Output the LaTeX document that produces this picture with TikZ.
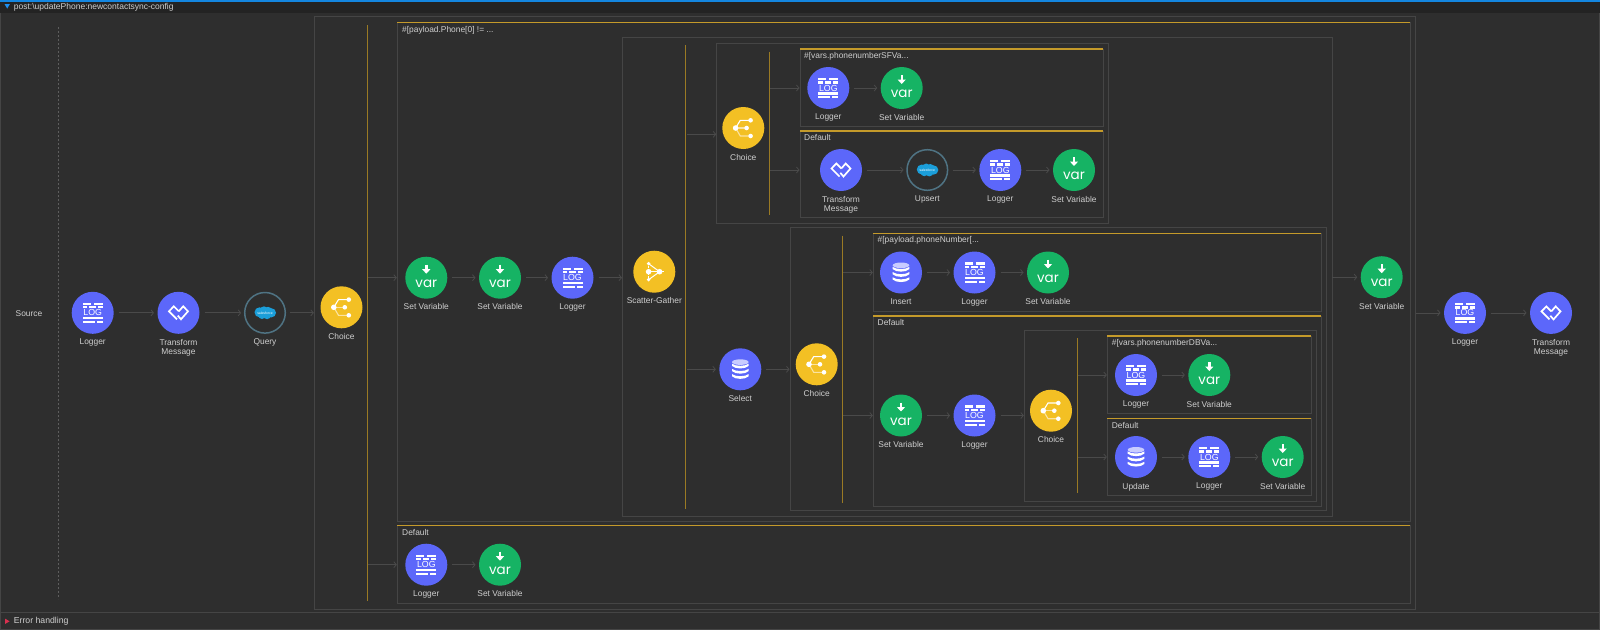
\documentclass[tikz,border=0pt]{standalone}
\usepackage{fontspec}
\setmainfont{Liberation Sans}
\newfontfamily\varfont{Poppins}
\usetikzlibrary{arrows.meta}
\definecolor{bgc}{HTML}{2E2E2E}
\definecolor{bandc}{HTML}{232323}
\definecolor{framec}{HTML}{454545}
\definecolor{flowc}{HTML}{4A4A4A}
\definecolor{dotc}{HTML}{5E5E5E}
\definecolor{goldb}{HTML}{C49A2A}
\definecolor{goldv}{HTML}{9A7A24}
\definecolor{txtc}{HTML}{CFCFCF}
\definecolor{blu}{HTML}{5C67FA}
\definecolor{grn}{HTML}{16B364}
\definecolor{yel}{HTML}{F3C024}
\definecolor{ringc}{HTML}{4F7383}
\definecolor{sfc}{HTML}{1B9ED9}
\definecolor{lav}{HTML}{C9CCFF}
\definecolor{dimy}{HTML}{FBE3A0}
\definecolor{topblue}{HTML}{1486E0}
\definecolor{triblue}{HTML}{1E90F0}
\definecolor{trired}{HTML}{D9304F}
\tikzset{
  x=1pt,y=-1pt,
  bubble/.style={circle,minimum size=42pt,inner sep=0pt,outer sep=0pt},
  bub/.style={bubble,fill=blu},
  bug/.style={bubble,fill=grn},
  buy/.style={bubble,fill=yel},
  bus/.style={bubble,minimum size=40.6pt,draw=ringc,line width=1.5pt,fill=bgc},
  caption/.style={anchor=north,inner sep=0pt,align=center,text=txtc,font=\fontsize{8.4}{9.4}\selectfont},
  frame/.style={draw=framec,line width=.8pt,anchor=north west,inner sep=0pt,outer sep=0pt},
  frametitle/.style={anchor=west,inner sep=0pt,text=txtc,font=\fontsize{8.4}{9.4}\selectfont},
  goldbar/.style={draw=goldb,line width=1.4pt},
  goldline/.style={draw=goldv,line width=1pt},
  flow/.style={draw=flowc,line width=.8pt,-{Straight Barb[length=2.5pt,width=6pt]},shorten <=5pt,shorten >=3.5pt},
  fromedge/.style={shorten <=1pt},
  toedge/.style={shorten >=.5pt},
  logicon/.pic={
    \foreach \a/\b/\yy in {-10/-2/-9,1/10/-9,-10/-5.5/-5.5,-3.5/3/-5.5,5/10/-5.5,-10/10/5.5,-10/2/9.2,4/10/9.2}
      \fill[white] (\a,\yy-1.1) rectangle (\b,\yy+1.1);
    \node[inner sep=0pt,text=white,font=\fontsize{8.8}{9}\selectfont] (lg) at (0,0) {LOG};
  },
  dwicon/.pic={
    \draw[white,line width=1.7pt,miter limit=3] (-1.5,6.5) -- (-9.5,-1.5) -- (-4.7,-6.5) -- (0.3,-1.5);
    \draw[white,line width=1.7pt,miter limit=3] (0.3,-1.5) -- (4.7,-6.5) -- (9.5,-1.5) -- (2.5,6.5) -- (-0.7,2.8);
  },
  varicon/.pic={
    \draw[white,line width=2.4pt,-{Triangle[length=4.5pt,width=8pt]}] (0,-13) -- (0,-4);
    \node[inner sep=0pt,text=white,font=\varfont\fontsize{13.5}{14}\selectfont] (vt) at (0,6) {var};
  },
  dbicon/.pic={
    \fill[lav] (0,-7.2) ellipse [x radius=8.3pt,y radius=2.8pt];
    \foreach \yy in {-4.2,1,6.2}
      \fill[white] (-8.3,\yy-1.4) .. controls (-5,\yy+1.4) and (5,\yy+1.4) .. (8.3,\yy-1.4) -- (8.3,\yy+.8) .. controls (5,\yy+4.2) and (-5,\yy+4.2) .. (-8.3,\yy+.8) -- cycle;
  },
  choiceicon/.pic={
    \draw[dimy,line width=1.1pt] (-7.7,0) -- (3.3,0);
    \draw[dimy,line width=1.1pt] (-7.7,0) -- (-3,8) -- (7.3,8);
    \draw[white,line width=1.1pt] (-7.7,0) -- (-3,-7.7) -- (7.3,-7.7);
    \fill[white] (-7.7,0) circle[radius=2.8pt] (3.3,0) circle[radius=2.3pt] (7.3,-7.7) circle[radius=2.3pt] (7.3,8) circle[radius=2.3pt];
  },
  sgicon/.pic={
    \draw[white,line width=1pt,dash pattern=on 1.5pt off 1pt] (-5.7,-8) -- (-5.7,8);
    \draw[white,line width=1pt] (-5.7,-8) -- (5.3,0) -- (-5.7,8);
    \draw[white,line width=1pt] (-5.7,0) -- (9.7,0);
    \fill[white] (-5.7,0) circle[radius=2.8pt] (5.3,0) circle[radius=2.8pt] (-5.7,-8) circle[radius=1.9pt] (-5.7,8) circle[radius=1.9pt];
  },
  sficon/.pic={
    \fill[sfc] (-5.5,-0.5) circle[radius=5pt] (-1,-2.3) circle[radius=4.2pt] (3,-2.2) circle[radius=3.8pt] (6.4,0) circle[radius=4.6pt] (2,2.2) circle[radius=4.2pt] (-3,2.4) circle[radius=3.8pt];
    \node[inner sep=0pt,text=white,font=\fontsize{3.4}{4}\selectfont] (sft) at (0,0.2) {salesforce};
  },
}
\newcommand{\comp}[6]{%
  \node[#2] (#1) at (#3,#4) {};
  \pic (#1i) at (#1.center) {#5};
  \node[caption] (#1c) at ([yshift=-26pt]#1.center) {#6};
}
\newcommand{\frm}[5]{%
  \pgfmathsetmacro{\fw}{#4-#2}\pgfmathsetmacro{\fh}{#5-#3}
  \node[frame,minimum width=\fw pt,minimum height=\fh pt] (#1) at (#2,#3) {};
}
\newcommand{\topbar}[1]{\draw[goldbar] (#1.north west) -- (#1.north east);}
\newcommand{\gold}[4]{%
  \coordinate (#1) at (#2,#3);
  \coordinate (#1e) at (#2,#4);
  \draw[goldline] (#1) -- (#1e);
}
\begin{document}
\begin{tikzpicture}
\path[use as bounding box,fill=bgc] (0,0) rectangle (1600,630);
% chrome
\fill[bandc] (0,0) rectangle (1600,12.5);
\fill[topblue] (0,0) rectangle (1600,1.5);
\draw[framec,line width=.8pt] (0.5,12.5) -- (0.5,629.5) -- (1599.3,629.5) -- (1599.3,12.5);
\draw[framec,line width=1pt] (0.5,612.4) -- (1599.3,612.4);
\fill[triblue] (4.6,4.2) -- (9.8,4.2) -- (7.2,8.6) -- cycle;
\fill[trired] (5,618.6) -- (9.6,621.3) -- (5,624) -- cycle;
\node[frametitle,font=\fontsize{8.5}{9.4}\selectfont] (ttl) at (13.7,7.5) {post:\textbackslash updatePhone:newcontactsync-config};
\node[frametitle,font=\fontsize{8.7}{9.4}\selectfont] (err) at (13.7,621.7) {Error handling};
\node[inner sep=0pt,text=txtc,font=\fontsize{8.4}{9.4}\selectfont] (src) at (29,314) {Source};
\coordinate (dota) at (58.3,27);
\coordinate (dotb) at (58.3,599);
\draw[draw=dotc,line width=1pt,dash pattern=on 2pt off 2pt] (dota) -- (dotb);
% frames
\frm{mf}{314.3}{16.5}{1415.7}{609}
\frm{fp}{397.3}{22.7}{1410.3}{521.7}\topbar{fp}
\frm{fd}{397.3}{525.7}{1410.3}{603.3}\topbar{fd}
\frm{sc}{622.5}{37.6}{1332.3}{516.5}
\frm{ca}{716.7}{43.3}{1108}{223.3}
\frm{ca1}{800}{49}{1103}{126.7}\topbar{ca1}
\frm{ca2}{800}{131}{1103}{217.3}\topbar{ca2}
\frm{cb}{790}{227.3}{1326.7}{510.8}
\frm{cb1}{873.3}{233.7}{1321.3}{311.6}\topbar{cb1}
\frm{cb2}{873.3}{316}{1321.3}{506}\topbar{cb2}
\frm{cc}{1024.3}{330}{1316.7}{501.5}
\frm{cc1}{1107.3}{336}{1311.3}{413.5}\topbar{cc1}
\frm{cc2}{1107.3}{418.2}{1311.3}{495.5}\topbar{cc2}
% frame titles
\node[frametitle] (t1) at (402,30) {\#[payload.Phone[0] != ...};
\node[frametitle] (t2) at (402,532.7) {Default};
\node[frametitle] (t3) at (804,56.7) {\#[vars.phonenumberSFVa...};
\node[frametitle] (t4) at (804,137.7) {Default};
\node[frametitle] (t5) at (877.5,240.5) {\#[payload.phoneNumber[...};
\node[frametitle] (t6) at (877.5,322.5) {Default};
\node[frametitle] (t7) at (1111.7,343) {\#[vars.phonenumberDBVa...};
\node[frametitle] (t8) at (1111.7,425) {Default};
% gold rails
\gold{ga}{367.3}{25}{601}
\gold{gb}{685.8}{45}{509}
\gold{gc}{769}{51.7}{215.3}
\gold{gd}{842.3}{235.7}{503}
\gold{ge}{1077}{338}{493}
% components
\comp{la}{bub}{92.7}{312.8}{logicon}{Logger}
\comp{ta}{bub}{178.5}{312.8}{dwicon}{Transform\\Message}
\comp{qa}{bus}{265}{312.8}{sficon}{Query}
\comp{cha}{buy}{341.5}{307.3}{choiceicon}{Choice}
\comp{va}{bug}{426.3}{277.7}{varicon}{Set Variable}
\comp{vb}{bug}{500}{277.7}{varicon}{Set Variable}
\comp{lb}{bub}{572.5}{277.7}{logicon}{Logger}
\comp{sg}{buy}{654.3}{271.7}{sgicon}{Scatter-Gather}
\comp{ld}{bub}{426.3}{564.7}{logicon}{Logger}
\comp{vd}{bug}{500}{564.7}{varicon}{Set Variable}
\comp{chb}{buy}{743.3}{128}{choiceicon}{Choice}
\comp{le}{bub}{828.3}{88}{logicon}{Logger}
\comp{ve}{bug}{901.7}{88}{varicon}{Set Variable}
\comp{tf}{bub}{841}{170}{dwicon}{Transform\\Message}
\comp{up}{bus}{927.3}{170}{sficon}{Upsert}
\comp{lf}{bub}{1000.3}{170}{logicon}{Logger}
\comp{vf}{bug}{1074}{170}{varicon}{Set Variable}
\comp{sel}{bub}{740.3}{369.3}{dbicon}{Select}
\comp{chc}{buy}{816.7}{364.3}{choiceicon}{Choice}
\comp{ins}{bub}{901}{272.5}{dbicon}{Insert}
\comp{lg}{bub}{974.5}{272.5}{logicon}{Logger}
\comp{vg}{bug}{1048}{272.5}{varicon}{Set Variable}
\comp{vh}{bug}{901}{415.5}{varicon}{Set Variable}
\comp{lh}{bub}{974.5}{415.5}{logicon}{Logger}
\comp{chd}{buy}{1051}{410.7}{choiceicon}{Choice}
\comp{li}{bub}{1136}{375}{logicon}{Logger}
\comp{vi}{bug}{1209.3}{375}{varicon}{Set Variable}
\comp{ud}{bub}{1136}{457}{dbicon}{Update}
\comp{lj}{bub}{1209.3}{457}{logicon}{Logger}
\comp{vj}{bug}{1282.7}{457}{varicon}{Set Variable}
\comp{vk}{bug}{1381.7}{277.2}{varicon}{Set Variable}
\comp{lk}{bub}{1465}{312.9}{logicon}{Logger}
\comp{tk}{bub}{1551}{312.9}{dwicon}{Transform\\Message}
% connectors
\draw[flow] (la) -- (ta);
\draw[flow] (ta) -- (qa);
\draw[flow,toedge] (qa) -- (qa -| mf.west);
\draw[flow,fromedge,toedge] (ga |- va) -- (va -| fp.west);
\draw[flow,fromedge,toedge] (ga |- ld) -- (ld -| fd.west);
\draw[flow] (va) -- (vb);
\draw[flow] (vb) -- (lb);
\draw[flow,toedge] (lb) -- (lb -| sc.west);
\draw[flow] (ld) -- (vd);
\coordinate (cain) at (685.8,134.3);
\draw[flow,fromedge,toedge] (cain) -- (cain -| ca.west);
\draw[flow,fromedge] (gb |- sel) -- (sel);
\draw[flow,toedge] (sel) -- (sel -| cb.west);
\draw[flow,fromedge,toedge] (gc |- le) -- (le -| ca1.west);
\draw[flow,fromedge,toedge] (gc |- tf) -- (tf -| ca2.west);
\draw[flow] (le) -- (ve);
\draw[flow] (tf) -- (up);
\draw[flow] (up) -- (lf);
\draw[flow] (lf) -- (vf);
\draw[flow,fromedge,toedge] (gd |- ins) -- (ins -| cb1.west);
\draw[flow,fromedge,toedge] (gd |- vh) -- (vh -| cb2.west);
\draw[flow] (ins) -- (lg);
\draw[flow] (lg) -- (vg);
\draw[flow] (vh) -- (lh);
\draw[flow,toedge] (lh) -- (lh -| cc.west);
\draw[flow,fromedge,toedge] (ge |- li) -- (li -| cc1.west);
\draw[flow,fromedge,toedge] (ge |- ud) -- (ud -| cc2.west);
\draw[flow] (li) -- (vi);
\draw[flow] (ud) -- (lj);
\draw[flow] (lj) -- (vj);
\draw[flow,shorten <=0pt] (vk -| sc.east) -- (vk);
\draw[flow,shorten <=0pt] (lk -| mf.east) -- (lk);
\draw[flow] (lk) -- (tk);
\end{tikzpicture}
\end{document}
